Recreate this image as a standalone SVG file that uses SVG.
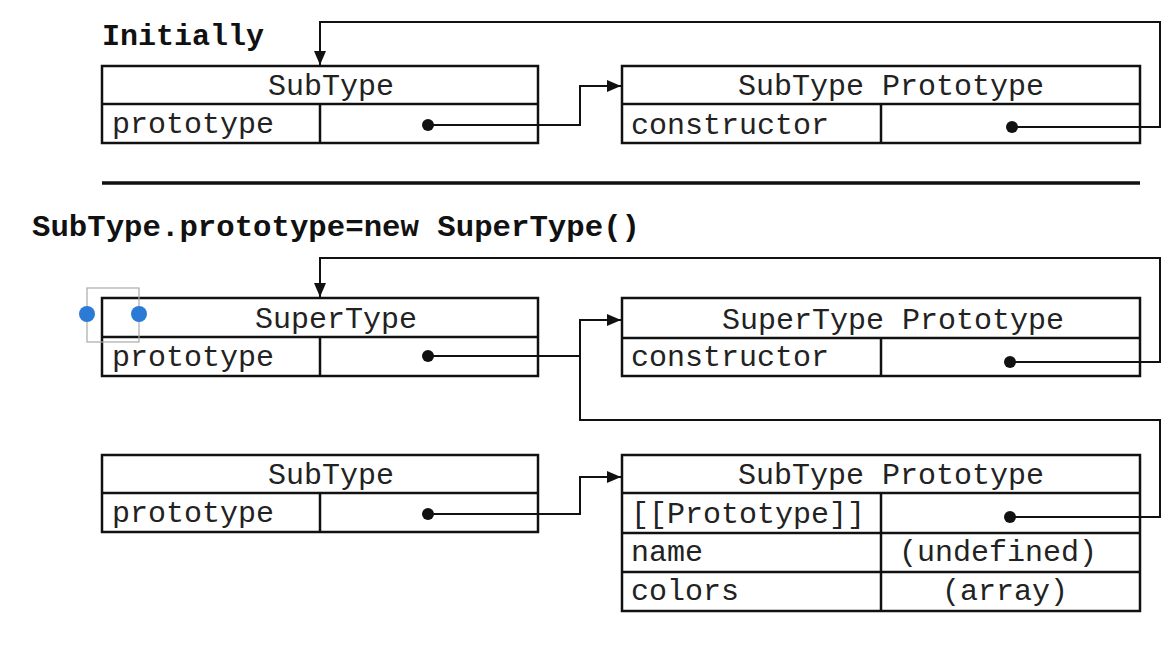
<svg xmlns="http://www.w3.org/2000/svg" width="1174" height="646" viewBox="0 0 1174 646">
<defs>
<marker id="arr" viewBox="0 0 14 12" refX="14" refY="6" markerWidth="14" markerHeight="12" markerUnits="userSpaceOnUse" orient="auto">
<path d="M0,0 L14,6 L0,12 Z" fill="#111"/>
</marker>
</defs>
<style>
.box{fill:#fff;stroke:#111;stroke-width:2.5}
.ln{stroke:#111;stroke-width:2.5;fill:none}
.c{fill:none;stroke:#111;stroke-width:2}
.t{font-family:"Liberation Mono","DejaVu Sans Mono",monospace;font-size:30px;fill:#222}
.h{font-family:"Liberation Mono","DejaVu Sans Mono",monospace;font-size:30px;font-weight:bold;fill:#111}
.m{text-anchor:middle}
.dot{fill:#111}
</style>
<rect width="1174" height="646" fill="#fff"/>

<text class="h" x="102" y="45">Initially</text>
<line x1="102" y1="183" x2="1140" y2="183" stroke="#111" stroke-width="3.5"/>
<text class="h" x="32" y="236" textLength="608" lengthAdjust="spacingAndGlyphs">SubType.prototype=new SuperType()</text>

<g id="subtype1">
<rect class="box" x="102" y="66" width="436" height="77"/>
<line class="ln" x1="102" y1="104" x2="538" y2="104"/>
<line class="ln" x1="320" y1="104" x2="320" y2="143"/>
<text class="t m" x="331" y="95">SubType</text>
<text class="t" x="112" y="133">prototype</text>
<circle class="dot" cx="428" cy="125" r="6"/>
</g>

<g id="subtypeproto1">
<rect class="box" x="622" y="66" width="518" height="77"/>
<line class="ln" x1="622" y1="104" x2="1140" y2="104"/>
<line class="ln" x1="881" y1="104" x2="881" y2="143"/>
<text class="t m" x="891" y="95">SubType Prototype</text>
<text class="t" x="631" y="134">constructor</text>
<circle class="dot" cx="1012" cy="127" r="6"/>
</g>

<g id="supertype">
<rect class="box" x="102" y="298" width="436" height="78"/>
<line class="ln" x1="102" y1="337" x2="538" y2="337"/>
<line class="ln" x1="320" y1="337" x2="320" y2="376"/>
<text class="t m" x="336" y="328">SuperType</text>
<text class="t" x="112" y="366">prototype</text>
<circle class="dot" cx="428" cy="356" r="6"/>
</g>

<g id="supertypeproto">
<rect class="box" x="622" y="298" width="518" height="78"/>
<line class="ln" x1="622" y1="338" x2="1140" y2="338"/>
<line class="ln" x1="881" y1="338" x2="881" y2="376"/>
<text class="t m" x="893" y="329">SuperType Prototype</text>
<text class="t" x="631" y="366">constructor</text>
<circle class="dot" cx="1010" cy="362" r="6"/>
</g>

<g id="subtype2">
<rect class="box" x="102" y="455" width="436" height="77"/>
<line class="ln" x1="102" y1="493" x2="538" y2="493"/>
<line class="ln" x1="320" y1="493" x2="320" y2="532"/>
<text class="t m" x="331" y="484">SubType</text>
<text class="t" x="112" y="522">prototype</text>
<circle class="dot" cx="428" cy="514" r="6"/>
</g>

<g id="subtypeproto2">
<rect class="box" x="622" y="455" width="518" height="156"/>
<line class="ln" x1="622" y1="493" x2="1140" y2="493"/>
<line class="ln" x1="622" y1="533" x2="1140" y2="533"/>
<line class="ln" x1="622" y1="572" x2="1140" y2="572"/>
<line class="ln" x1="881" y1="493" x2="881" y2="611"/>
<text class="t m" x="891" y="484">SubType Prototype</text>
<text class="t" x="631" y="523">[[Prototype]]</text>
<circle class="dot" cx="1010" cy="517" r="6"/>
<text class="t" x="631" y="561">name</text>
<text class="t m" x="998" y="561">(undefined)</text>
<text class="t" x="631" y="600">colors</text>
<text class="t m" x="1005" y="600">(array)</text>
</g>

<g id="connectors">
<path class="c" d="M428,125 H580 V86 H621" marker-end="url(#arr)"/>
<path class="c" d="M1012,127 H1160 V22 H320 V65" marker-end="url(#arr)"/>
<path class="c" d="M428,356 H580"/>
<path class="c" d="M1010,517 H1160 V420 H580 V320 H621" marker-end="url(#arr)"/>
<path class="c" d="M1010,362 H1160 V258 H320 V297" marker-end="url(#arr)"/>
<path class="c" d="M428,514 H580 V477 H621" marker-end="url(#arr)"/>
</g>

<g id="selection">
<rect x="87" y="288" width="52" height="54" fill="none" stroke="#aaa" stroke-width="1.2"/>
<circle cx="87" cy="314" r="8" fill="#2b7bd6"/>
<circle cx="139" cy="314" r="8" fill="#2b7bd6"/>
</g>
</svg>
